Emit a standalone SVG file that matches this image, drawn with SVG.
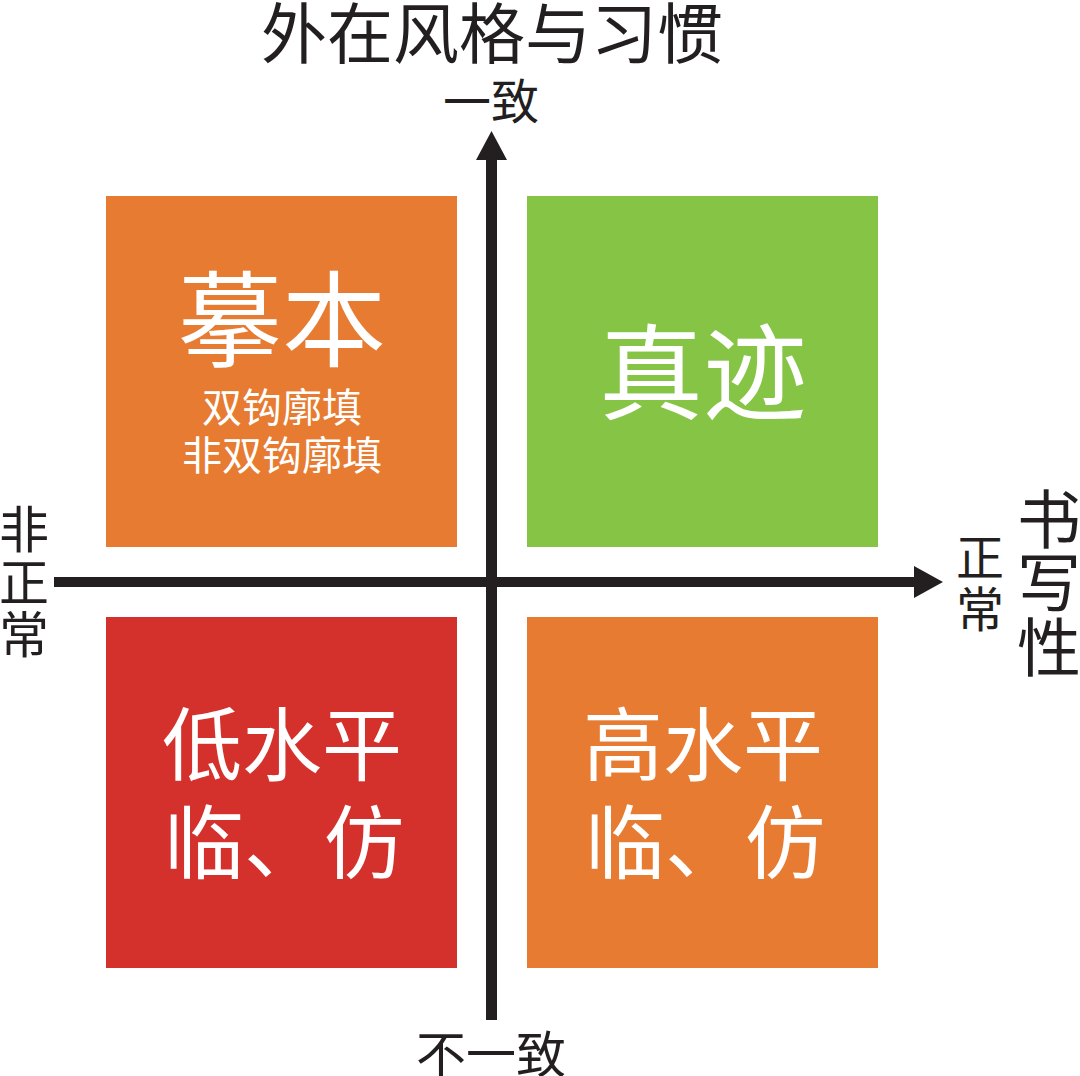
<svg xmlns="http://www.w3.org/2000/svg" width="1080" height="1076" viewBox="0 0 1080 1076">
<style>
text{font-family:"Noto Sans CJK SC","Noto Sans",sans-serif;text-anchor:middle}
.dark{fill:#231F20}
.w{fill:#FFFFFF}
.orange{fill:#E67B31}
.green{fill:#86C446}
.red{fill:#D4312D}
</style>
<rect width="1080" height="1076" fill="#FFFFFF"/>
<g id="box-moben">
<rect class="orange" x="106" y="196" width="351" height="351"/>
<text class="w" x="282" y="359" font-size="104">摹本</text>
<text class="w" x="282" y="422" font-size="40">双钩廓填</text>
<text class="w" x="282" y="470" font-size="40">非双钩廓填</text>
</g>
<g id="box-zhenji">
<rect class="green" x="527" y="196" width="351" height="351"/>
<text class="w" x="703" y="412" font-size="104">真迹</text>
</g>
<g id="box-low">
<rect class="red" x="106" y="617" width="351" height="351"/>
<text class="w" x="282" y="774" font-size="80">低水平</text>
<text class="w" x="284" y="872" font-size="80">临、仿</text>
</g>
<g id="box-high">
<rect class="orange" x="527" y="617" width="351" height="351"/>
<text class="w" x="703" y="774" font-size="80">高水平</text>
<text class="w" x="705" y="872" font-size="80">临、仿</text>
</g>
<g id="connectors">
<rect class="dark" x="486" y="155" width="11" height="865"/>
<polygon class="dark" points="491.5,131 507,160 476,160"/>
<rect class="dark" x="54" y="577" width="865" height="10"/>
<polygon class="dark" points="943,582 914,566 914,598"/>
</g>
<g id="labels">
<text class="dark" x="492" y="58" font-size="66">外在风格与习惯</text>
<text class="dark" x="491" y="119" font-size="48">一致</text>
<text class="dark" x="491" y="1073" font-size="50">不一致</text>
<text class="dark" font-size="50"><tspan x="24" y="548">非</tspan><tspan x="24" y="601">正</tspan><tspan x="24" y="653">常</tspan></text>
<text class="dark" font-size="48"><tspan x="980" y="575">正</tspan><tspan x="980" y="627">常</tspan></text>
<text class="dark" font-size="64"><tspan x="1049" y="543">书</tspan><tspan x="1049" y="606">写</tspan><tspan x="1049" y="671">性</tspan></text>
</g>
</svg>
